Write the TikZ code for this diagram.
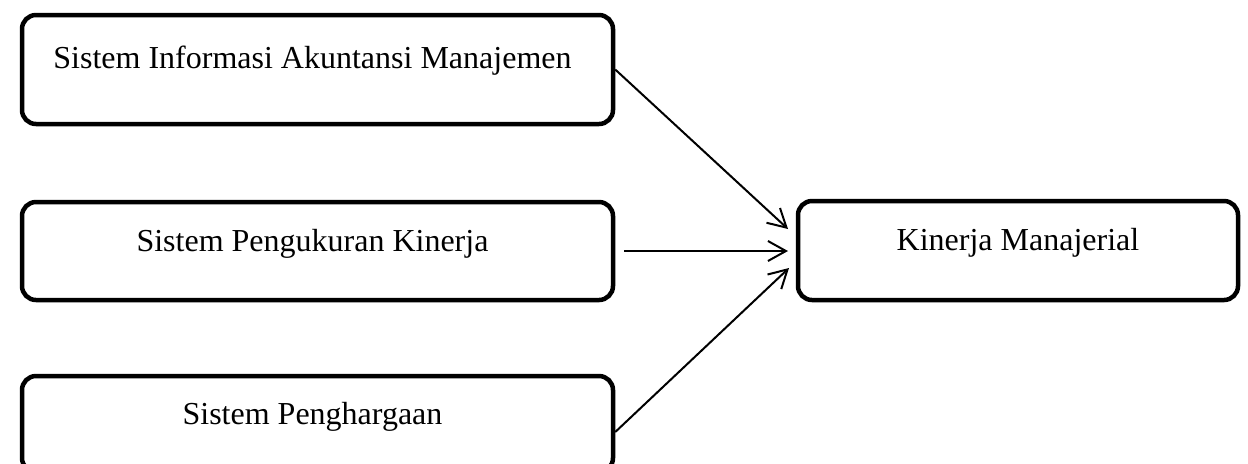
\documentclass[tikz,border=0pt]{standalone}
\usepackage{fontspec}
\setmainfont{Liberation Serif}
\usetikzlibrary{arrows.meta}
\begin{document}
\begin{tikzpicture}[x=0.5pt,y=-0.5pt,
  box/.style={draw, line width=2.25pt, rounded corners=7pt, inner sep=0pt,
    text height=11pt, text depth=11pt, font=\fontsize{16}{19}\selectfont},
  link/.style={draw, line width=1pt, -{Straight Barb[length=9pt,width=10pt]}}]
\useasboundingbox (0,0) rectangle (1248,463);
\clip (0,0) rectangle (1248,463);
\node[box, minimum width=295.5pt, minimum height=54.5pt, text depth=12pt] (b1) at (317.5,69.5) {Sistem Informasi Akuntansi Manajemen\kern5pt};
\node[box, minimum width=295.5pt, minimum height=49pt] (b2) at (317.5,251) {Sistem Pengukuran Kinerja\kern5pt};
\node[box, minimum width=295.5pt, minimum height=48pt] (b3) at (317.5,424) {Sistem Penghargaan\kern5pt};
\node[box, minimum width=220pt, minimum height=49.5pt] (k) at (1018,250.5) {Kinerja Manajerial};
\coordinate (t1) at (788,229);
\coordinate (t2) at (788,251);
\coordinate (t3) at (789,268);
\draw[link] (b1.east) -- (t1);
\draw[link] ([xshift=4.5pt]b2.east) -- (t2);
\draw[link] ([yshift=-4pt]b3.east) -- (t3);
\end{tikzpicture}
\end{document}
